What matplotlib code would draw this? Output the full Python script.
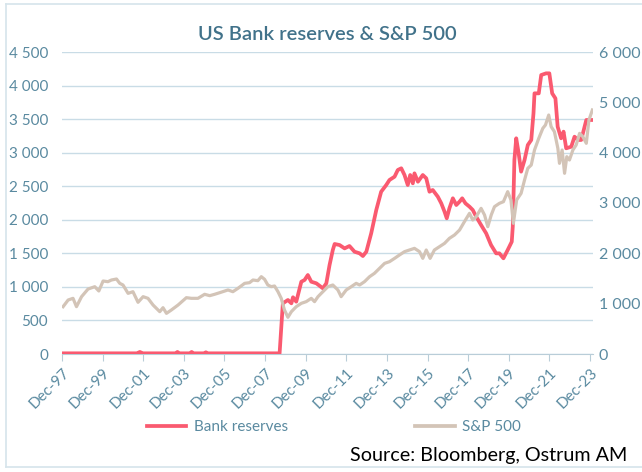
import numpy as np
import matplotlib
matplotlib.use("Agg")
import matplotlib.pyplot as plt
from matplotlib.lines import Line2D

plt.rcParams['font.family'] = ['Lato', 'DejaVu Sans']

# bank reserves, bn USD (left axis) - decimal years
res_t = [1997.92, 2001.6, 2001.75, 2001.9, 2003.5, 2003.6, 2003.7, 2004.2, 2004.3, 2004.4,
         2004.9, 2005.0, 2005.1, 2008.63, 2008.79, 2009.04, 2009.21, 2009.29, 2009.45, 2009.70,
         2009.86, 2010.02, 2010.19, 2010.44, 2010.76, 2010.93, 2011.09, 2011.25, 2011.34, 2011.58,
         2011.83, 2012.07, 2012.32, 2012.57, 2012.73, 2012.90, 2013.14, 2013.39, 2013.63, 2013.88,
         2014.04, 2014.29, 2014.45, 2014.62, 2014.78, 2014.94, 2015.06, 2015.19, 2015.27, 2015.44,
         2015.68, 2015.85, 2016.01, 2016.17, 2016.42, 2016.59, 2016.75, 2016.86, 2016.99, 2017.16,
         2017.33, 2017.49, 2017.62, 2017.78, 2017.98, 2018.14, 2018.31, 2018.55, 2018.80, 2019.04,
         2019.29, 2019.45, 2019.65, 2019.86, 2020.06, 2020.11, 2020.19, 2020.28, 2020.40, 2020.52,
         2020.69, 2020.85, 2021.02, 2021.13, 2021.18, 2021.39, 2021.51, 2021.75, 2021.91, 2022.05,
         2022.21, 2022.32, 2022.49, 2022.61, 2022.74, 2022.99, 2023.15, 2023.32, 2023.48, 2023.73,
         2024.05]
res_v = [10, 10, 30, 10, 10, 30, 10, 10, 30, 10,
         10, 25, 10, 10, 755, 805, 755, 845, 780, 1077,
         1103, 1177, 1077, 1053, 979, 1053, 1326, 1550, 1639, 1624,
         1574, 1609, 1524, 1500, 1460, 1524, 1798, 2146, 2418, 2518,
         2593, 2642, 2742, 2767, 2667, 2518, 2667, 2543, 2692, 2567,
         2667, 2618, 2418, 2444, 2344, 2245, 2121, 2022, 2171, 2320,
         2220, 2270, 2320, 2245, 2195, 2146, 2046, 1922, 1798, 1624,
         1500, 1500, 1426, 1550, 1673, 1897, 2891, 3214, 2990, 2717,
         2891, 3114, 3189, 3586, 3884, 3884, 4157, 4182, 4182, 3884,
         3809, 3387, 3214, 3313, 3065, 3089, 3238, 3189, 3189, 3487,
         3487]

# S&P 500 index (right axis)
spx_t = [1997.97, 1998.22, 1998.46, 1998.63, 1998.88, 1999.20, 1999.53, 1999.73, 1999.94, 2000.18,
         2000.35, 2000.60, 2000.76, 2000.92, 2001.17, 2001.41, 2001.66, 2001.91, 2002.15, 2002.40,
         2002.73, 2002.89, 2003.06, 2003.30, 2003.63, 2004.04, 2004.29, 2004.61, 2004.94, 2005.19,
         2005.43, 2005.68, 2006.09, 2006.33, 2006.58, 2006.91, 2007.15, 2007.32, 2007.56, 2007.73,
         2007.89, 2008.05, 2008.22, 2008.38, 2008.55, 2008.71, 2008.87, 2009.04, 2009.21, 2009.45,
         2009.70, 2009.94, 2010.19, 2010.35, 2010.52, 2010.68, 2011.01, 2011.25, 2011.50, 2011.66,
         2011.91, 2012.16, 2012.40, 2012.57, 2012.81, 2013.06, 2013.30, 2013.55, 2013.80, 2014.04,
         2014.29, 2014.53, 2014.78, 2015.02, 2015.27, 2015.52, 2015.68, 2015.85, 2016.04, 2016.25,
         2016.50, 2016.75, 2016.99, 2017.24, 2017.49, 2017.73, 2017.98, 2018.14, 2018.31, 2018.55,
         2018.72, 2018.88, 2019.05, 2019.21, 2019.45, 2019.65, 2019.86, 2020.02, 2020.14, 2020.30,
         2020.52, 2020.69, 2020.85, 2021.02, 2021.18, 2021.39, 2021.59, 2021.72, 2021.88, 2022.00,
         2022.16, 2022.33, 2022.41, 2022.54, 2022.66, 2022.77, 2022.90, 2023.07, 2023.23, 2023.40,
         2023.56, 2023.73, 2023.86, 2024.03]
spx_v = [940, 1073, 1106, 940, 1139, 1291, 1337, 1252, 1450, 1437,
         1470, 1490, 1404, 1371, 1205, 1238, 1027, 1139, 1106, 973,
         841, 920, 808, 874, 973, 1119, 1106, 1106, 1186, 1159,
         1186, 1218, 1272, 1238, 1305, 1404, 1417, 1470, 1457, 1536,
         1484, 1371, 1338, 1351, 1238, 1106, 874, 729, 841, 940,
         1007, 1040, 1106, 1040, 1139, 1205, 1338, 1371, 1272, 1139,
         1272, 1338, 1404, 1371, 1437, 1536, 1603, 1702, 1801, 1834,
         1900, 1967, 2033, 2066, 2099, 2033, 1900, 2066, 1900, 2066,
         2132, 2198, 2298, 2364, 2463, 2629, 2795, 2662, 2728, 2894,
         2762, 2529, 2762, 2927, 2993, 3026, 3225, 3060, 2596, 3060,
         3192, 3457, 3689, 3755, 4053, 4285, 4484, 4550, 4748, 4516,
         4417, 4087, 3788, 4053, 3590, 3920, 3854, 4053, 4152, 4384,
         4318, 4186, 4649, 4848]

x_ticks = [1997.917 + 2 * i for i in range(14)]
x_labels = ['Dec-%02d' % ((97 + 2 * i) % 100) for i in range(14)]
left_ticks = list(range(0, 4501, 500))
right_ticks = list(range(0, 6001, 1000))

lab_col = '#5a8aa0'
grid_col = '#c9dce6'

fig = plt.figure(figsize=(6.42, 4.72), dpi=100)
ax = fig.add_axes([62/642, 1-354/472, (593-62)/642, (354-52)/472])
ax2 = ax.twinx()

ax.plot(res_t, res_v, color='#fa5a70', lw=2.7, solid_joinstyle='round', zorder=3)
ax2.plot(spx_t, spx_v, color='#d3c4b7', lw=2.3, solid_joinstyle='round', zorder=3)

ax.set_xlim(1997.917, 2024.06)
ax.set_ylim(0, 4500)
ax2.set_ylim(0, 6000)

ax.set_yticks(left_ticks)
ax.set_yticklabels(['{:,}'.format(v).replace(',', ' ') for v in left_ticks])
ax2.set_yticks(right_ticks)
ax2.set_yticklabels(['{:,}'.format(v).replace(',', ' ') for v in right_ticks])
ax.set_xticks(x_ticks)
ax.set_xticklabels(x_labels, rotation=45, ha='right', va='top', rotation_mode='anchor')

ax.grid(axis='y', color=grid_col, lw=1.0)
ax.set_axisbelow(True)
for a in (ax, ax2):
    for s in ('left', 'right', 'top', 'bottom'):
        a.spines[s].set_visible(False)
ax.spines['bottom'].set_visible(True)
ax.spines['bottom'].set_color('#b9cdd8')
ax.tick_params(axis='y', length=0, pad=10, labelsize=11, labelcolor=lab_col)
ax2.tick_params(axis='y', length=0, pad=4, labelsize=11.5, labelcolor=lab_col)
ax.tick_params(axis='x', length=5, color='#b9cdd8', pad=3, labelsize=11, labelcolor=lab_col)

fig.text(0.51, 1-35/472, 'US Bank reserves & S&P 500', ha='center', va='center',
         fontsize=14.5, color='#41728a', fontweight='semibold')

handles = [Line2D([], [], color='#fa5a70', lw=2.7), Line2D([], [], color='#d3c4b7', lw=2.7)]
fig.legend(handles, ['Bank reserves', 'S&P 500'], loc='center', bbox_to_anchor=(334/642, 1-427/472),
           ncol=2, frameon=False, fontsize=11, labelcolor=lab_col, handlelength=2.6,
           handletextpad=0.5, columnspacing=8.3)

fig.text(627/642, 1-455/472, 'Source: Bloomberg, Ostrum AM', ha='right', va='center',
         fontsize=14.2, color='black')

# outer frame of the chart
bc = '#d6e4eb'
fig.add_artist(Line2D([6/642, 6/642], [5/472, 1-4/472], color=bc, lw=1.2))
fig.add_artist(Line2D([6/642, 1], [1-4/472, 1-4/472], color=bc, lw=1.2))
fig.add_artist(Line2D([6/642, 1], [5/472, 5/472], color=bc, lw=1.2))

fig.savefig('out.png', dpi=100)
